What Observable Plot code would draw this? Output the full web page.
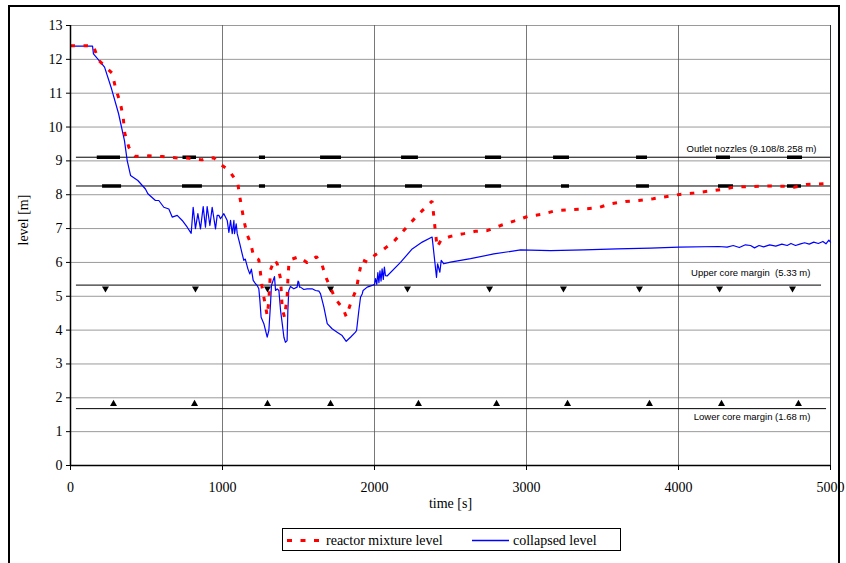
<!DOCTYPE html>
<html>
<head>
<meta charset="utf-8">
<script src="https://cdn.jsdelivr.net/npm/d3@7"></script>
<script src="https://cdn.jsdelivr.net/npm/@observablehq/plot@0.6"></script>
<style>
  body { margin: 0; background: #fff; }
  #wrap { position: relative; width: 846px; height: 563px; overflow: hidden; background: #fff; }
  #frame { position: absolute; left: 8px; top: 5px; width: 832px; height: 600px; border: 2px solid #000; box-sizing: border-box; }
  #chart { position: absolute; left: 0; top: 0; }
  #legend { position: absolute; left: 282px; top: 528px; width: 339px; height: 23px; border: 1px solid #000; box-sizing: border-box;
            font-family: "Liberation Serif", "Times New Roman", serif; font-size: 14px; color: #000; background: #fff; }
  #legend svg { position: absolute; left: 0; top: 0; }
</style>
</head>
<body>
<div id="wrap">
  <div id="frame"></div>
  <div id="chart"></div>
  <div id="legend"></div>
</div>
<script>
// ---- data ----
const xTicks = [0, 1000, 2000, 3000, 4000, 5000];
const yTicks = [0,1,2,3,4,5,6,7,8,9,10,11,12,13];

// collapsed level (blue)
const blueT = [0,145,151,197,224,270,316,355,373,395,443,493,509,559,581,614,647,669,702,735,768,794,807,822,838,855,873,888,899,917,932,954,965,976,987,1009,1031,1042,1053,1064,1075,1079,1090,1097,1114,1129,1140,1150,1167,1180,1190,1202,1217,1228,1239,1246,1254,1272,1283,1294,1305,1316,1322,1333,1342,1349,1360,1371,1382,1393,1404,1414,1425,1430,1436,1447,1469,1491,1497,1502,1507,1513,1535,1557,1590,1612,1635,1645,1667,1689,1721,1754,1787,1814,1842,1875,1882,1897,1908,1919,1925,1952,1985,2000,2007,2015,2022,2029,2036,2043,2050,2058,2065,2072,2083,2171,2248,2314,2379,2408,2415,2430,2439,2456,2500,2632,2785,2961,3158,3377,3596,3816,4002,4265,4320,4360,4400,4440,4474,4500,4530,4560,4600,4640,4680,4715,4740,4770,4803,4830,4860,4890,4920,4950,4970,4989,5000];
const blueV = [12.39,12.39,12.16,11.92,11.77,11.13,10.4,9.6,9.01,8.57,8.42,8.17,8.03,7.83,7.83,7.63,7.58,7.34,7.39,7.24,7.04,6.86,7.63,7.0,7.44,6.99,7.65,7.04,7.65,7.09,7.63,6.99,7.39,7.39,7.29,7.44,7.24,6.89,7.24,6.85,7.24,6.85,7.14,6.85,6.55,6.26,6.06,6.1,5.81,5.66,5.8,5.47,5.37,5.32,5.22,4.88,4.38,4.19,3.99,3.79,3.99,4.78,5.32,5.47,5.58,5.17,5.22,5.17,4.58,4.19,3.79,3.64,3.69,4.58,5.17,5.29,5.22,5.27,5.45,5.42,5.27,5.27,5.2,5.22,5.22,5.17,5.15,5.07,4.68,4.19,4.04,3.94,3.84,3.67,3.79,3.94,3.99,4.58,4.97,5.07,5.17,5.27,5.32,5.35,5.52,5.35,5.7,5.4,5.75,5.45,5.81,5.5,5.86,5.61,5.6,6.0,6.4,6.6,6.75,5.56,5.96,5.71,6.06,5.96,6.01,6.11,6.25,6.37,6.35,6.37,6.40,6.42,6.45,6.47,6.45,6.5,6.44,6.52,6.5,6.43,6.5,6.46,6.52,6.48,6.54,6.5,6.56,6.5,6.55,6.58,6.54,6.6,6.56,6.62,6.55,6.66,6.6];

// reactor mixture level (red)
const redT = [0,150,186,274,296,329,347,357,384,428,515,603,691,778,866,899,943,993,1042,1086,1101,1114,1129,1140,1162,1184,1206,1239,1250,1261,1278,1294,1305,1316,1342,1360,1382,1393,1408,1425,1430,1436,1447,1502,1557,1618,1656,1684,1743,1794,1814,1846,1882,1897,1919,1952,2007,2050,2072,2123,2182,2241,2314,2379,2391,2401,2412,2439,2500,2588,2664,2741,2829,2917,3015,3103,3191,3289,3377,3465,3553,3651,3739,3833,3925,4009,4101,4189,4276,4360,4447,4529,4610,4693,4759,4842,4923,5000];
const redV = [12.4,12.4,11.97,11.59,11.16,10.69,10.27,9.82,9.40,9.13,9.15,9.13,9.09,9.08,9.03,9.08,9.09,8.88,8.72,8.44,8.32,7.93,7.55,7.26,6.82,6.58,6.17,6.08,5.68,5.25,4.83,4.43,4.87,5.78,6.08,5.96,5.52,4.63,4.38,4.97,5.47,5.91,6.08,6.17,5.99,6.17,5.91,5.52,4.92,4.63,4.40,4.83,5.22,5.64,6.08,6.01,6.23,6.35,6.43,6.60,6.89,7.19,7.53,7.81,7.34,6.89,6.45,6.67,6.77,6.85,6.92,6.94,7.09,7.22,7.37,7.42,7.53,7.56,7.58,7.61,7.73,7.80,7.83,7.88,7.95,8.01,8.05,8.10,8.15,8.22,8.24,8.25,8.26,8.25,8.22,8.30,8.32,8.34];

// reference levels
const nozzleUpperLevel = 9.108;
const nozzleLowerLevel = 8.258;
const upperCoreLevel = 5.33;
const lowerCoreLevel = 1.68;
const nozzleUpperSegs = [[176,329],[740,829],[1243,1283],[1645,1783],[2178,2289],[2730,2836],[3178,3283],[3724,3796],[4250,4342],[4717,4816]];
const nozzleLowerSegs = [[211,336],[737,868],[1243,1283],[1691,1783],[2204,2316],[2730,2836],[3230,3283],[3724,3809],[4263,4362],[4717,4809]];
const downTriT = [230,822,1296,1711,2217,2757,3243,3743,4270,4750];
const upTriT = [283,816,1296,1711,2289,2803,3270,3809,4283,4789];
const labels = ["Outlet nozzles (9.108/8.258 m)", "Upper core margin  (5.33 m)", "Lower core margin (1.68 m)"];

// ---- build ----
const serif = "Liberation Serif, Times New Roman, serif";
const sans = "Liberation Sans, Arial, sans-serif";
const blue = blueT.map((t, i) => ({t, v: blueV[i]}));
const red = redT.map((t, i) => ({t, v: redV[i]}));
const refLines = [
  {x1: 39, x2: 5000, y: nozzleUpperLevel},
  {x1: 39, x2: 5000, y: nozzleLowerLevel},
  {x1: 39, x2: 4941, y: upperCoreLevel},
  {x1: 39, x2: 4974, y: lowerCoreLevel}
];
const segs = [
  ...nozzleUpperSegs.map(([a, b]) => ({x1: a, x2: b, y: nozzleUpperLevel})),
  ...nozzleLowerSegs.map(([a, b]) => ({x1: a, x2: b, y: nozzleLowerLevel}))
];
const downTri = downTriT.map(t => ({t, v: 5.23}));
const upTri = upTriT.map(t => ({t, v: 1.82}));
const labelRows = [
  {t: 4908, v: 9.34, s: labels[0]},
  {t: 4868, v: 5.70, s: labels[1]},
  {t: 4868, v: 1.42, s: labels[2]}
];

const chart = Plot.plot({
  width: 846,
  height: 520,
  marginLeft: 70,
  marginRight: 16,
  marginTop: 25,
  marginBottom: 55,
  style: {fontFamily: serif, background: "transparent", overflow: "visible", color: "#000"},
  x: {domain: [0, 5000]},
  y: {domain: [0, 13]},
  marks: [
    Plot.gridY(yTicks, {stroke: "#9a9a9a", strokeOpacity: 1, strokeWidth: 1}),
    Plot.gridX([1000, 2000, 3000, 4000], {stroke: "#555", strokeOpacity: 1, strokeWidth: 0.8}),
    Plot.ruleX([5000], {stroke: "#333", strokeWidth: 1}),
    Plot.ruleY(refLines, {x1: "x1", x2: "x2", y: "y", stroke: "#000", strokeWidth: 1}),
    Plot.ruleY(segs, {x1: "x1", x2: "x2", y: "y", stroke: "#000", strokeWidth: 3.5}),
    Plot.dot(downTri, {x: "t", y: "v", symbol: "triangle", r: 2.6, fill: "#000", rotate: 180}),
    Plot.dot(upTri, {x: "t", y: "v", symbol: "triangle", r: 2.6, fill: "#000"}),
    Plot.text(labelRows, {x: "t", y: "v", text: "s", textAnchor: "end", fontSize: 9.5, fontFamily: sans, fill: "#000"}),
    Plot.line(blue, {x: "t", y: "v", stroke: "#0000ff", strokeWidth: 1.2}),
    Plot.line(red, {x: "t", y: "v", stroke: "#ff0000", strokeWidth: 3, strokeDasharray: "4.5,8.5", strokeLinecap: "butt", strokeLinejoin: "miter"}),
    Plot.ruleX([0], {stroke: "#000", strokeWidth: 1.5}),
    Plot.ruleY([0], {stroke: "#000", strokeWidth: 1.5}),
    Plot.axisY(yTicks, {tickSize: 4, tickPadding: 4, fontSize: 14, fontFamily: serif, label: null}),
    Plot.axisX(xTicks, {tickSize: 5, tickPadding: 12, fontSize: 14, fontFamily: serif, tickFormat: d => String(d), label: null}),
    Plot.text(["time [s]"], {frameAnchor: "bottom", dy: 42, fontSize: 14, fontFamily: serif}),
    Plot.text(["level [m]"], {frameAnchor: "left", dx: -47, rotate: -90, fontSize: 14, fontFamily: serif})
  ]
});
document.getElementById("chart").appendChild(chart);

// legend
const lg = document.getElementById("legend");
lg.innerHTML = `
<svg width="339" height="23">
  <line x1="4" x2="38" y1="11.5" y2="11.5" stroke="#ff0000" stroke-width="3" stroke-dasharray="5,8.5"/>
  <text x="43" y="16" font-size="14" font-family="Liberation Serif, Times New Roman, serif">reactor mixture level</text>
  <line x1="189" x2="226" y1="11.5" y2="11.5" stroke="#0000ff" stroke-width="1.3"/>
  <text x="230" y="16" font-size="14" font-family="Liberation Serif, Times New Roman, serif">collapsed level</text>
</svg>`;
</script>
</body>
</html>
